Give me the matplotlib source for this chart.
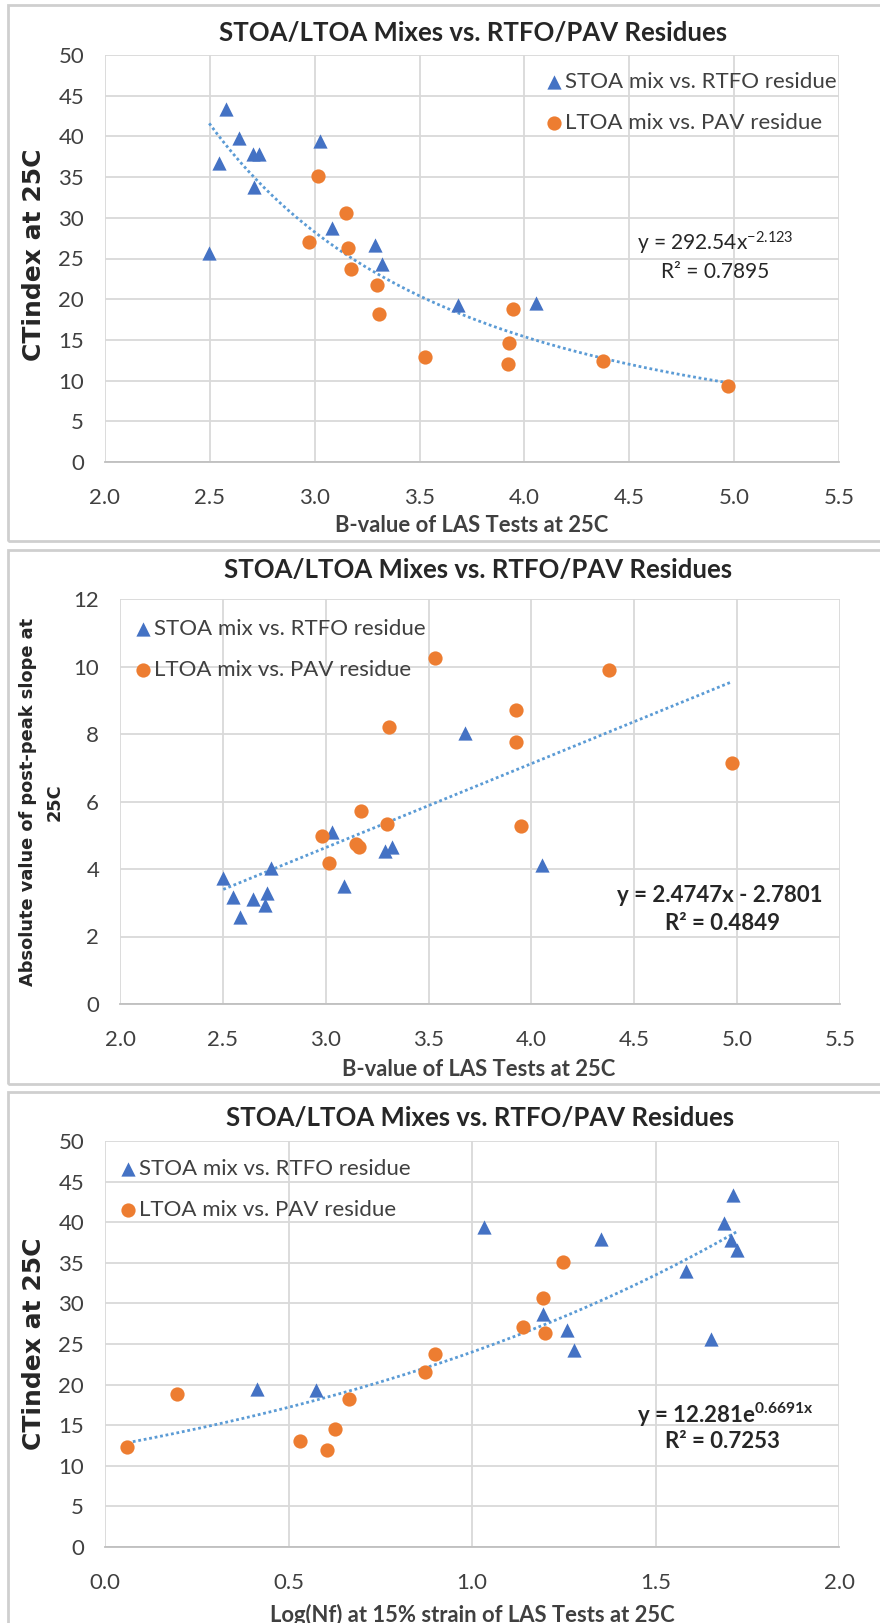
import matplotlib.pyplot as plt
from matplotlib.patches import Rectangle
import numpy as np

plt.rcParams['font.family'] = ['Lato', 'DejaVu Sans']
plt.rcParams['mathtext.default'] = 'regular'

# ---- data ----
# panel 1 : CTindex vs B-value
b1_stoa = [2.578, 2.639, 2.545, 2.706, 2.735, 2.711, 3.027, 3.083, 2.497, 3.286, 3.321, 3.684, 4.053]
ct1_stoa = [43.4, 39.8, 36.7, 37.8, 37.8, 33.8, 39.4, 28.7, 25.7, 26.6, 24.3, 19.3, 19.5]
b1_ltoa = [3.016, 3.150, 2.973, 3.160, 3.171, 3.299, 3.305, 3.527, 3.944, 3.928, 3.922, 4.374, 4.973]
ct1_ltoa = [35.1, 30.6, 27.0, 26.3, 23.7, 21.7, 18.2, 12.9, 18.8, 14.6, 12.1, 12.4, 9.3]

# panel 2 : post-peak slope vs B-value
b2_stoa = [3.679, 3.031, 3.320, 3.287, 4.050, 2.736, 2.502, 2.548, 2.646, 2.717, 2.706, 2.583, 3.088]
sl2_stoa = [8.03, 5.09, 4.65, 4.52, 4.12, 4.02, 3.72, 3.18, 3.10, 3.30, 2.93, 2.59, 3.50]
b2_ltoa = [3.529, 4.377, 3.925, 3.306, 3.925, 4.977, 3.172, 3.300, 3.947, 2.981, 3.148, 3.164, 3.017]
sl2_ltoa = [10.24, 9.89, 8.71, 8.22, 7.77, 7.14, 5.71, 5.32, 5.26, 4.98, 4.75, 4.65, 4.17]

# panel 3 : CTindex vs Log(Nf)
nf3_stoa = [1.032, 1.351, 1.688, 1.711, 1.706, 1.723, 1.582, 1.193, 1.260, 1.277, 1.652, 0.413, 0.574]
ct3_stoa = [39.4, 37.9, 39.9, 43.4, 37.8, 36.6, 34.0, 28.7, 26.7, 24.3, 25.6, 19.5, 19.3]
nf3_ltoa = [1.248, 1.193, 1.139, 1.199, 0.900, 0.873, 0.666, 0.196, 0.628, 0.530, 0.606, 0.061]
ct3_ltoa = [35.1, 30.7, 27.1, 26.3, 23.8, 21.6, 18.2, 18.8, 14.5, 13.0, 12.0, 12.3]

title = 'STOA/LTOA Mixes vs. RTFO/PAV Residues'
lab_stoa = 'STOA mix vs. RTFO residue'
lab_ltoa = 'LTOA mix vs. PAV residue'

BLUE = '#4472C4'
ORANGE = '#ED7D31'
TREND = '#5B9BD5'
GRID = '#D9D9D9'

W, H = 880, 1623
fig = plt.figure(figsize=(W / 100, H / 100), dpi=100)


def fx(x):
    return x / W


def fy(y):
    return 1 - y / H


def make_axes(left, right, top, bottom):
    ax = fig.add_axes([fx(left), fy(bottom), (right - left) / W, (bottom - top) / H])
    ax.set_axisbelow(True)
    ax.grid(True, color=GRID, lw=1.3)
    for s in ['top', 'right', 'left']:
        ax.spines[s].set_visible(False)
    ax.spines['bottom'].set_color('#BFBFBF')
    ax.spines['bottom'].set_linewidth(1.3)
    ax.tick_params(length=0, labelsize=16, colors='#404040', pad=15)
    ax.tick_params(axis='x', pad=19)
    return ax


def points(ax, xs, ys, xl, yl):
    ax.scatter(xs, ys, marker='^', s=105, color=BLUE, lw=0, label=lab_stoa, zorder=3)
    ax.scatter(xl, yl, marker='o', s=105, color=ORANGE, lw=0, label=lab_ltoa, zorder=3)


def legend(ax, x, y):
    ax.legend(loc='upper left', bbox_to_anchor=(fx(x), fy(y)), bbox_transform=fig.transFigure,
              frameon=False, fontsize=16, handletextpad=-0.1, handlelength=1.2,
              labelspacing=0.95, borderpad=0, borderaxespad=0, labelcolor='#404040')


# panel borders
for top, bot in [(5, 541), (550, 1084), (1092, 1640)]:
    fig.patches.append(Rectangle((fx(8), fy(bot)), (W + 20 - 8) / W, (bot - top) / H,
                                 transform=fig.transFigure, fill=False, ec='#CFCFCF', lw=2.0))

# ---- panel 1 ----
ax1 = make_axes(105, 839, 55, 462)
points(ax1, b1_stoa, ct1_stoa, b1_ltoa, ct1_ltoa)
bx = np.array(b1_stoa + b1_ltoa)
by = np.array(ct1_stoa + ct1_ltoa)
k, c = np.polyfit(np.log(bx), np.log(by), 1)
xx = np.linspace(bx.min(), bx.max(), 200)
ax1.plot(xx, np.exp(c) * xx ** k, color=TREND, lw=2, ls=(0, (1, 1)), zorder=2)
ax1.set_xlim(2.0, 5.5)
ax1.set_ylim(0, 50)
ax1.set_xticks(np.arange(2.0, 5.51, 0.5))
ax1.set_xticklabels(['%.1f' % v for v in np.arange(2.0, 5.51, 0.5)])
ax1.set_yticks(range(0, 51, 5))
legend(ax1, 541, 72)
fig.text(fx(473), fy(33), title, ha='center', va='center', fontsize=18.5, weight='bold', color='#262626')
fig.text(fx(472), fy(525), 'B-value of LAS Tests at 25C', ha='center', va='center', fontsize=15.8, weight='bold', color='#404040')
fig.text(fx(34), fy(255), 'CTindex at 25C', rotation=90, ha='center', va='center', fontsize=18,
         weight='bold', family='DejaVu Sans', color='#262626')
fig.text(fx(715), fy(243), 'y = 292.54x$^{-2.123}$', ha='center', va='center', fontsize=15, color='#262626')
fig.text(fx(715), fy(272), 'R² = 0.7895', ha='center', va='center', fontsize=15, color='#262626')

# ---- panel 2 ----
ax2 = make_axes(120, 840, 599, 1004)
points(ax2, b2_stoa, sl2_stoa, b2_ltoa, sl2_ltoa)
bx = np.array(b2_stoa + b2_ltoa)
by = np.array(sl2_stoa + sl2_ltoa)
m, q = np.polyfit(bx, by, 1)
xx = np.linspace(bx.min(), bx.max(), 200)
ax2.plot(xx, m * xx + q, color=TREND, lw=2, ls=(0, (1, 1)), zorder=2)
ax2.set_xlim(2.0, 5.5)
ax2.set_ylim(0, 12)
ax2.set_xticks(np.arange(2.0, 5.51, 0.5))
ax2.set_xticklabels(['%.1f' % v for v in np.arange(2.0, 5.51, 0.5)])
ax2.set_yticks(range(0, 13, 2))
legend(ax2, 130, 619)
fig.text(fx(478), fy(570), title, ha='center', va='center', fontsize=18.5, weight='bold', color='#262626')
fig.text(fx(479), fy(1070), 'B-value of LAS Tests at 25C', ha='center', va='center', fontsize=15.8, weight='bold', color='#404040')
fig.text(fx(41), fy(802), 'Absolute value of post-peak slope at\n25C', rotation=90, ha='center', va='center',
         fontsize=12.8, weight='bold', family='DejaVu Sans', color='#262626', linespacing=1.6)
fig.text(fx(720), fy(896), 'y = 2.4747x - 2.7801', ha='center', va='center', fontsize=16, weight='bold', color='#262626')
fig.text(fx(722), fy(923), 'R² = 0.4849', ha='center', va='center', fontsize=16, weight='bold', color='#262626')

# ---- panel 3 ----
ax3 = make_axes(105, 839, 1141, 1547)
points(ax3, nf3_stoa, ct3_stoa, nf3_ltoa, ct3_ltoa)
nx = np.array(nf3_stoa + nf3_ltoa)
ny = np.array(ct3_stoa + ct3_ltoa)
r, lc = np.polyfit(nx, np.log(ny), 1)
xx = np.linspace(nx.min(), nx.max(), 200)
ax3.plot(xx, np.exp(lc) * np.exp(r * xx), color=TREND, lw=2, ls=(0, (1, 1)), zorder=2)
ax3.set_xlim(0, 2.0)
ax3.set_ylim(0, 50)
ax3.set_xticks(np.arange(0, 2.01, 0.5))
ax3.set_xticklabels(['%.1f' % v for v in np.arange(0, 2.01, 0.5)])
ax3.set_yticks(range(0, 51, 5))
legend(ax3, 115, 1159)
fig.text(fx(480), fy(1118), title, ha='center', va='center', fontsize=18.5, weight='bold', color='#262626')
fig.text(fx(472), fy(1615), 'Log(Nf) at 15% strain of LAS Tests at 25C', ha='center', va='center', fontsize=15.8,
         weight='bold', color='#404040')
fig.text(fx(34), fy(1344), 'CTindex at 25C', rotation=90, ha='center', va='center', fontsize=18,
         weight='bold', family='DejaVu Sans', color='#262626')
fig.text(fx(725), fy(1415), 'y = 12.281e$^{0.6691x}$', ha='center', va='center', fontsize=16, weight='bold', color='#262626')
fig.text(fx(722), fy(1442), 'R² = 0.7253', ha='center', va='center', fontsize=16, weight='bold', color='#262626')

fig.savefig('out.png', dpi=100)
